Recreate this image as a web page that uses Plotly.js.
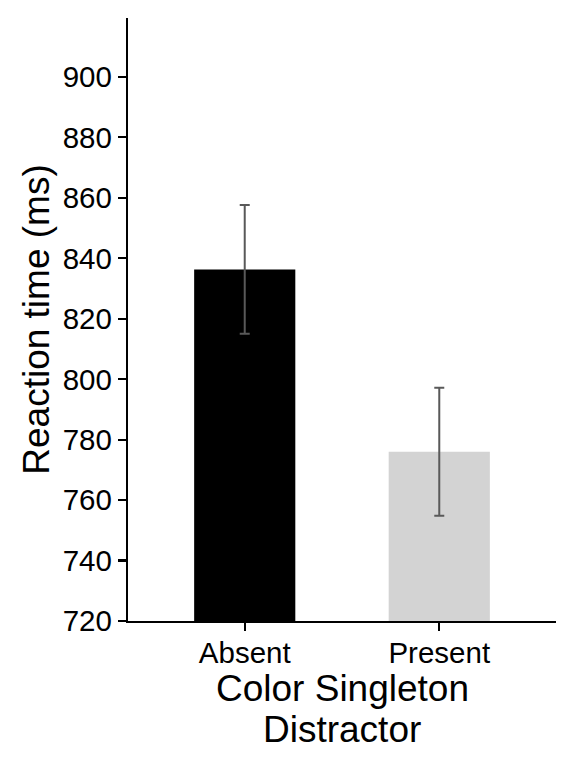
<!DOCTYPE html>
<html>
<head>
<meta charset="utf-8">
<script src="https://cdn.plot.ly/plotly-3.0.1.min.js"></script>
<style>html,body{margin:0;padding:0;background:#fff}#chart{width:576px;height:768px}</style>
</head>
<body>
<div id="chart"></div>
<script>
var categories = ['Absent', 'Present'];
var meanRT = [836.3, 776.0];
var errRT = [21.3, 21.2];
var barColors = ['#000000', '#d3d3d3'];
var yTicks = [720, 740, 760, 780, 800, 820, 840, 860, 880, 900];
var xTitleLines = ['Color Singleton', 'Distractor'];

var FONT = 'Liberation Sans, Arial, sans-serif';
var TICK = 29.5, TITLE = 37;

var trace = {
  type: 'bar',
  x: categories,
  y: meanRT.map(function (v) { return v - 720; }),
  base: 720,
  width: 0.52,
  marker: { color: barColors, line: { width: 0 } },
  error_y: { type: 'data', array: errRT, visible: true, color: '#595959', thickness: 2, width: 5 },
  hoverinfo: 'x+y'
};

var layout = {
  width: 576,
  height: 768,
  margin: { l: 128, r: 20, t: 18, b: 147 },
  paper_bgcolor: '#fff',
  plot_bgcolor: '#fff',
  showlegend: false,
  font: { family: FONT, color: '#000' },
  xaxis: {
    type: 'category',
    range: [-0.6, 1.6],
    showline: true, linecolor: '#000', linewidth: 2.2,
    ticks: 'outside', ticklen: 8, tickwidth: 2.2, tickcolor: '#000',
    ticklabelstandoff: -4,
    tickfont: { size: TICK, family: FONT, color: '#000' },
    showgrid: false, zeroline: false
  },
  yaxis: {
    range: [720, 919.5],
    tickvals: yTicks,
    ticktext: yTicks.map(String),
    showline: true, linecolor: '#000', linewidth: 2.2,
    ticks: 'outside', ticklen: 8, tickwidth: 2.2, tickcolor: '#000',
    tickfont: { size: TICK, family: FONT, color: '#000' },
    showgrid: false, zeroline: false,
    automargin: true,
    title: { text: 'Reaction time (ms)', standoff: 2, font: { size: TITLE, family: FONT, color: '#000' } }
  },
  annotations: [
    { text: xTitleLines[0], xref: 'paper', yref: 'paper', x: 0.5, y: (621 - 688) / 603, xanchor: 'center', yanchor: 'middle', showarrow: false, font: { size: TITLE, family: FONT, color: '#000' } },
    { text: xTitleLines[1], xref: 'paper', yref: 'paper', x: 0.5, y: (621 - 729) / 603, xanchor: 'center', yanchor: 'middle', showarrow: false, font: { size: TITLE, family: FONT, color: '#000' } }
  ]
};

Plotly.newPlot('chart', [trace], layout, { displayModeBar: false, staticPlot: true });
</script>
</body>
</html>
